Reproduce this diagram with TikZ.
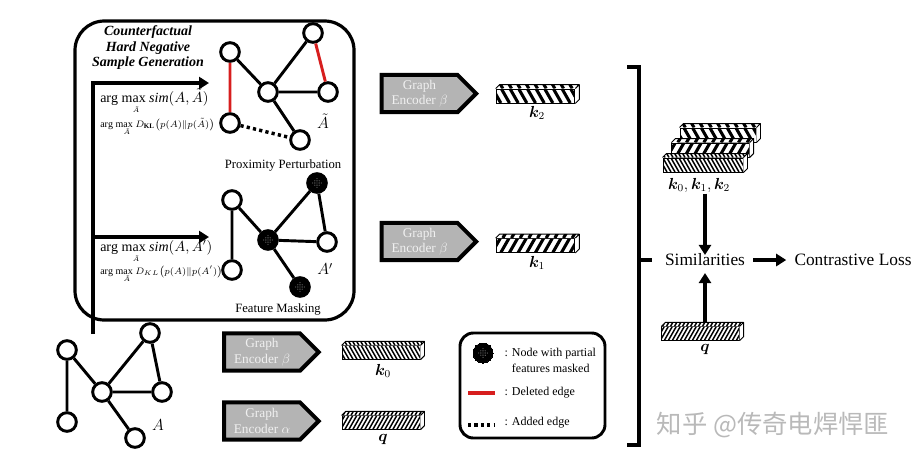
\documentclass[tikz,border=0pt]{standalone}
\usepackage{amsmath}
\usepackage{bm}
\usepackage{fontspec}
\setmainfont{Liberation Serif}
\newfontfamily\cjkfont{Noto Sans CJK SC}
\usetikzlibrary{shapes.symbols,arrows.meta,calc}
\definecolor{delred}{RGB}{215,30,30}
\definecolor{encgray}{RGB}{180,180,180}
\definecolor{enctext}{RGB}{240,240,240}
\newcommand\amaxA{\mathrm{arg\ m}\smash{\rlap{\raisebox{-0.78em}{$\scriptscriptstyle\tilde{A}$}}}\mathrm{ax}}
\tikzset{
  gnode/.style={circle,draw,line width=2.2pt,fill=white,minimum size=14pt,inner sep=0pt},
  mnode/.style={circle,draw,line width=2.2pt,fill=black,minimum size=14pt,inner sep=0pt,
    path picture={\foreach \u/\v in {0/0,1.6/0,-1.6/0,0/1.6,0/-1.6,1.6/1.6,-1.6/1.6,1.6/-1.6,-1.6/-1.6,3.2/0,-3.2/0,0/3.2,0/-3.2}
      {\fill[white] ([xshift=\u pt,yshift=\v pt]path picture bounding box.center) circle (0.35pt);}}},
  gedge/.style={line width=2.2pt},
  redge/.style={line width=2.2pt,draw=delred},
  aedge/.style={line width=2.6pt,dash pattern=on 2.4pt off 2.4pt},
  enc/.style={signal,signal to=east,draw,line width=3pt,fill=encgray,text=enctext,
    minimum width=71pt,minimum height=28pt,inner sep=0pt,align=center,
    font=\fontsize{10}{11.5}\selectfont},
  bigarrow/.style={line width=2.4pt,-{Triangle[length=7.5pt,width=9pt]}},
  bar/.style={draw,line width=0.7pt,rectangle,inner sep=0pt,minimum height=10.5pt,fill=white},
  hatch/.style n args={3}{path picture={\foreach \i in {-25,...,25}{\draw[line width=#3]
      ([xshift=\i*#1]path picture bounding box.south) -- ++(#2,14pt);}}},
  thickback/.style={hatch={6.5pt}{-8pt}{2.3pt}},
  thickfwd/.style={hatch={6.5pt}{8pt}{2.3pt}},
  fineback/.style={hatch={3pt}{-8pt}{1.1pt}},
  finefwd/.style={hatch={3pt}{8pt}{1.1pt}},
  lbl/.style={inner sep=1pt,font=\fontsize{12}{14}\selectfont},
  txt/.style={inner sep=1pt,font=\fontsize{9.5}{11}\selectfont},
}
\newcommand\barfaces[2]{%
  \fill[white] (#1.north east) -- ++(4,-4) -- ($(#1.south east)+(4,-4)$) -- (#1.south east) -- cycle;
  \path[fill=white,#2] (#1.north west) -- ++(4,-4) -- ($(#1.north east)+(4,-4)$) -- (#1.north east) -- cycle;
  \draw[line width=0.7pt,line join=round] (#1.north west) -- ++(4,-4) -- ($(#1.north east)+(4,-4)$) -- ($(#1.south east)+(4,-4)$) -- (#1.south east)
    (#1.north east) -- ++(4,-4);}
\begin{document}
\begin{tikzpicture}[x=0.75pt,y=-0.75pt]
\useasboundingbox (0,0) rectangle (924,462);

% generation box
\draw[line width=2.4pt,rounded corners=22pt] (75,21) rectangle (354,320);
\node[inner sep=0pt,align=center,font=\bfseries\itshape\fontsize{10.5}{11.6}\selectfont] (ttl) at (148,48)
  {Counterfactual\\Hard Negative\\Sample Generation};

% feed lines
\coordinate (src) at (93,334);
\coordinate (corner) at (93,83);
\coordinate (t1) at (209,83);
\coordinate (br) at (93,237);
\coordinate (t2) at (209,237);
\draw[bigarrow,line join=miter] (src) -- (corner) -- (t1);
\draw[bigarrow] (br) -- (t2);

% formulas
\node[anchor=base west,inner sep=0pt,font=\fontsize{10.5}{12}\selectfont] (f1) at (100,102)
  {$\amaxA\ \mathit{sim}(A,\tilde{A})$};
\node[anchor=base west,inner sep=0pt,font=\fontsize{7.5}{9}\selectfont] (f2) at (100,127)
  {$\amaxA\ D_{\mathbf{KL}}\bigl(p(A)\|p(\tilde{A})\bigr)$};
\node[anchor=base west,inner sep=0pt,font=\fontsize{10.5}{12}\selectfont] (f3) at (100,251)
  {$\amaxA\ \mathit{sim}(A,A')$};
\node[anchor=base west,inner sep=0pt,font=\fontsize{7.5}{9}\selectfont] (f4) at (100,274)
  {$\amaxA\ D_{KL}\bigl(p(A)\|p(A')\bigr)$};

% graph A tilde
\node[gnode] (p1) at (230,52) {};
\node[gnode] (p2) at (313,33) {};
\node[gnode] (p3) at (268,92) {};
\node[gnode] (p4) at (328,92) {};
\node[gnode] (p5) at (230,123) {};
\node[gnode] (p6) at (300,140) {};
\draw[gedge] (p1)--(p3) (p3)--(p2) (p3)--(p4) (p3)--(p6);
\draw[redge] (p1)--(p5) (p2)--(p4);
\draw[aedge] (p5)--(p6);
\node[lbl,font=\fontsize{12}{14}\selectfont] (lAt) at (323,121) {$\tilde{A}$};
\node[txt] (pp) at (283,165) {Proximity Perturbation};

% graph A'
\node[gnode] (q1) at (232,200) {};
\node[mnode] (q2) at (317,183) {};
\node[mnode] (q3) at (268,240) {};
\node[gnode] (q4) at (327,242) {};
\node[gnode] (q5) at (232,270) {};
\node[mnode] (q6) at (300,287) {};
\draw[gedge] (q1)--(q5) (q1)--(q3) (q3)--(q2) (q2)--(q4) (q3)--(q4) (q3)--(q6);
\node[lbl,font=\fontsize{12}{14}\selectfont] (lAp) at (325,269) {$A'$};
\node[txt] (fm) at (278,309) {Feature Masking};

% graph A
\node[gnode] (a1) at (67,350) {};
\node[gnode] (a2) at (150,333) {};
\node[gnode] (a3) at (102,392) {};
\node[gnode] (a4) at (162,392) {};
\node[gnode] (a5) at (67,422) {};
\node[gnode] (a6) at (135,438) {};
\draw[gedge] (a1)--(a5) (a1)--(a3) (a3)--(a2) (a2)--(a4) (a3)--(a4) (a3)--(a6);
\node[lbl,font=\fontsize{12}{14}\selectfont] (lA) at (158,425) {$A$};

% encoders
\node[enc] (e1) at (419.5,93.5) {Graph\\Encoder $\beta$};
\node[enc] (e2) at (419.5,241.5) {Graph\\Encoder $\beta$};
\node[enc] (e3) at (262,352) {Graph\\Encoder $\beta$};
\node[enc] (e4) at (262,421) {Graph\\Encoder $\alpha$};

% embedding bars
\node[bar,thickback,minimum width=59pt] (k2) at (535.5,96) {};
\barfaces{k2}{thickback}
\node[lbl] (k2l) at (537,113) {$\bm{k}_2$};
\node[bar,thickfwd,minimum width=59pt] (k1) at (535.5,245.5) {};
\barfaces{k1}{thickfwd}
\node[lbl] (k1l) at (537,263) {$\bm{k}_1$};
\node[bar,fineback,minimum width=58.5pt,minimum height=10pt] (k0) at (381,352.5) {};
\barfaces{k0}{fineback}
\node[lbl] (k0l) at (383,371) {$\bm{k}_0$};
\node[bar,finefwd,minimum width=58.5pt,minimum height=10pt] (q) at (381,422.5) {};
\barfaces{q}{finefwd}
\node[lbl] (ql) at (383,439) {$\bm{q}$};

% bracket
\draw[line width=2.4pt] (627,67) -- (639,67) -- (639,445) -- (627,445);
\draw[line width=2.4pt] (639,260) -- (652,260);

% stacked keys
\node[bar,thickback,minimum width=57pt] (s2) at (718,135) {};
\barfaces{s2}{thickback}
\node[bar,thickfwd,minimum width=58pt] (s1) at (710.5,150) {};
\barfaces{s1}{thickfwd}
\node[bar,fineback,minimum width=60pt] (s0) at (703,165) {};
\barfaces{s0}{fineback}
\node[lbl] (kk) at (699,185) {$\bm{k}_0, \bm{k}_1, \bm{k}_2$};

\node[inner sep=2pt,font=\fontsize{13}{15}\selectfont] (sim) at (705,260) {Similarities};
\node[inner sep=2pt,font=\fontsize{13}{15}\selectfont] (loss) at (853,260) {Contrastive Loss};

\node[bar,finefwd,minimum width=58pt,minimum height=10pt] (qr) at (700.5,333.5) {};
\barfaces{qr}{finefwd}
\node[lbl] (qrl) at (705,349) {$\bm{q}$};

\draw[bigarrow] (kk.south -| sim.north) -- ([yshift=-3pt]sim.north);
\draw[bigarrow,shorten <=4pt,shorten >=4pt] (sim.east) -- (loss.west);
\draw[bigarrow] ($(qr.north -| sim.south)+(0,-4)$) -- ([yshift=-3pt]sim.south);

% legend
\draw[line width=2.2pt,rounded corners=10pt] (460,333) rectangle (605,438);
\node[mnode,minimum size=15pt,line width=0pt] (lg1) at (483,353) {};
\node[txt,anchor=west,align=left,font=\fontsize{9}{12}\selectfont] (lt1) at (503,360)
  {: Node with partial\\\hphantom{: }features masked};
\coordinate (ld1) at (468,393);
\coordinate (ld2) at (495,393);
\draw[redge,line width=2.6pt] (ld1) -- (ld2);
\node[txt,anchor=west,font=\fontsize{9}{12}\selectfont] (lt2) at (503,393) {: Deleted edge};
\coordinate (la1) at (468,425);
\coordinate (la2) at (495,425);
\draw[aedge] (la1) -- (la2);
\node[txt,anchor=west,font=\fontsize{9}{12}\selectfont] (lt3) at (503,423) {: Added edge};

% watermark
\node[inner sep=0pt,text=gray!55,font=\cjkfont\fontsize{19}{21}\selectfont] (wm) at (773,425) {知乎 @传奇电焊悍匪};
\end{tikzpicture}
\end{document}
